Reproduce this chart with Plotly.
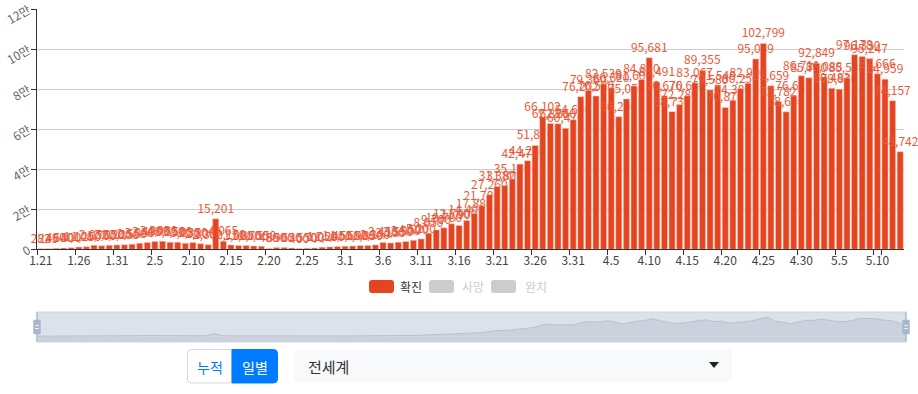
import plotly.graph_objects as go

dates = [
    "1.21", "1.22", "1.23", "1.24", "1.25", "1.26", "1.27", "1.28", "1.29", "1.30", "1.31",
    "2.1", "2.2", "2.3", "2.4", "2.5", "2.6", "2.7", "2.8", "2.9", "2.10",
    "2.11", "2.12", "2.13", "2.14", "2.15", "2.16", "2.17", "2.18", "2.19", "2.20",
    "2.21", "2.22", "2.23", "2.24", "2.25", "2.26", "2.27", "2.28", "2.29",
    "3.1", "3.2", "3.3", "3.4", "3.5", "3.6", "3.7", "3.8", "3.9", "3.10",
    "3.11", "3.12", "3.13", "3.14", "3.15", "3.16", "3.17", "3.18", "3.19", "3.20",
    "3.21", "3.22", "3.23", "3.24", "3.25", "3.26", "3.27", "3.28", "3.29", "3.30", "3.31",
    "4.1", "4.2", "4.3", "4.4", "4.5", "4.6", "4.7", "4.8", "4.9", "4.10",
    "4.11", "4.12", "4.13", "4.14", "4.15", "4.16", "4.17", "4.18", "4.19", "4.20",
    "4.21", "4.22", "4.23", "4.24", "4.25", "4.26", "4.27", "4.28", "4.29", "4.30",
    "5.1", "5.2", "5.3", "5.4", "5.5", "5.6", "5.7", "5.8", "5.9", "5.10",
    "5.11", "5.12", "5.13",
]

confirmed = [
    282, 245, 480, 640, 800, 1100, 1250, 2050, 1750, 2050, 2200,
    2250, 2550, 3050, 3400, 3900, 4000, 3550, 3500, 3050, 3350,
    2800, 2300, 15201, 4065, 2150, 1900, 1850, 1700, 1550, 450,
    850, 900, 650, 400, 550, 700, 1050, 1200, 1450,
    1550, 1650, 1900, 1850, 2200, 3450, 3150, 3550, 3900, 4500,
    5200, 8050, 9700, 10700, 12700, 11900, 14400, 17880, 21700, 27260,
    31382, 31802, 35150, 42470, 44230, 51870, 66102, 62820, 62660, 60470, 64690,
    76202, 79360, 76580, 82530, 80620, 66230, 75050, 81600, 84810, 95681,
    83491, 76670, 68730, 72280, 76660, 83067, 89355, 79580, 81540, 70870,
    74380, 80250, 82900, 95039, 102799, 81659, 73782, 68640, 76620, 86711,
    85700, 92849, 86088, 80483, 79930, 85530, 97178, 96330, 95247, 87666,
    84959, 74157, 48742,
]

x_tick_labels = dates[::5]
y_tick_values = [0, 20000, 40000, 60000, 80000, 100000, 120000]
y_tick_labels = ["0", "2만", "4만", "6만", "8만", "10만", "12만"]
legend_names = ["확진", "사망", "완치"]
button_names = ["누적", "일별"]
region_name = "전세계"

BAR = "#e4441f"
FONT = "Noto Sans CJK KR"

W, H = 918, 394
L = 37
R = W - 906
T = 9
B = H - 342
PW = W - L - R
PH = H - T - B


def px(x):
    return (x - L) / PW


def py(y):
    return (H - B - y) / PH


def rrect(x0, y0, x1, y1, rtl, rtr, rbr, rbl):
    def P(x, y):
        return f"{px(x):.5f},{py(y):.5f}"
    s = f"M{P(x0 + rtl, y0)} L{P(x1 - rtr, y0)} Q{P(x1, y0)} {P(x1, y0 + rtr)} "
    s += f"L{P(x1, y1 - rbr)} Q{P(x1, y1)} {P(x1 - rbr, y1)} "
    s += f"L{P(x0 + rbl, y1)} Q{P(x0, y1)} {P(x0, y1 - rbl)} "
    s += f"L{P(x0, y0 + rtl)} Q{P(x0, y0)} {P(x0 + rtl, y0)} Z"
    return s


fig = go.Figure()

fig.add_trace(go.Bar(
    x=dates, y=confirmed, name=legend_names[0],
    marker=dict(color=BAR, line=dict(color="rgba(255,200,188,0.9)", width=0.6)),
    text=[f"{v:,}" for v in confirmed], textposition="outside",
    textfont=dict(size=12, color="#ea5a3b", family=FONT),
    constraintext="none", cliponaxis=False,
    xaxis="x", yaxis="y", showlegend=False,
))

fig.add_trace(go.Scatter(
    x=dates, y=confirmed, mode="lines", fill="tozeroy",
    line=dict(color="#b9c1cd", width=1), fillcolor="#ccd2dd",
    xaxis="x2", yaxis="y2", showlegend=False, hoverinfo="skip",
))

shapes = []
# slider background
shapes.append(dict(type="rect", xref="paper", yref="paper",
                   x0=px(37), x1=px(906), y0=py(342), y1=py(312),
                   fillcolor="#dce1ea", line=dict(color="#cdd5e2", width=1), layer="below"))
shapes.append(dict(type="rect", xref="paper", yref="paper",
                   x0=px(37), x1=px(906), y0=py(342), y1=py(336.5),
                   fillcolor="#ccd2dd", line=dict(width=0), layer="below"))
# slider edge lines and handles
for hx in (37, 906):
    shapes.append(dict(type="line", xref="paper", yref="paper",
                       x0=px(hx), x1=px(hx), y0=py(342), y1=py(312),
                       line=dict(color="#a9b7cb", width=1.2)))
    shapes.append(dict(type="path", xref="paper", yref="paper",
                       path=rrect(hx - 3.5, 320, hx + 3.5, 334, 1, 1, 1, 1),
                       fillcolor="#a8b7cb", line=dict(color="#a8b7cb", width=0.5)))
    for ly in (325.5, 328.5):
        shapes.append(dict(type="line", xref="paper", yref="paper",
                           x0=px(hx - 1.5), x1=px(hx + 1.5), y0=py(ly), y1=py(ly),
                           line=dict(color="#ffffff", width=1)))

# custom legend
legend_items = [(369, 398, BAR, "#333333"), (429, 460, "#cccccc", "#cccccc"), (491, 523, "#cccccc", "#cccccc")]
annotations = []
for (rx, tx, col, tcol), name in zip(legend_items, legend_names):
    shapes.append(dict(type="path", xref="paper", yref="paper",
                       path=rrect(rx, 280, rx + 25, 293, 3, 3, 3, 3),
                       fillcolor=col, line=dict(width=0)))
    annotations.append(dict(xref="paper", yref="paper", x=px(tx), y=py(286.5),
                            text=name, showarrow=False, xanchor="left", yanchor="middle",
                            font=dict(size=12, color=tcol, family=FONT)))

# buttons
shapes.append(dict(type="path", xref="paper", yref="paper",
                   path=rrect(187.5, 349.5, 232, 383, 4, 0, 0, 4),
                   fillcolor="#ffffff", line=dict(color="#d3d8dd", width=1)))
shapes.append(dict(type="path", xref="paper", yref="paper",
                   path=rrect(232, 349.5, 277.5, 383, 0, 4, 4, 0),
                   fillcolor="#007bff", line=dict(color="#007bff", width=1)))
annotations.append(dict(xref="paper", yref="paper", x=px(209.8), y=py(366.5),
                        text=button_names[0], showarrow=False, xanchor="center", yanchor="middle",
                        font=dict(size=14, color="#007bff", family=FONT)))
annotations.append(dict(xref="paper", yref="paper", x=px(254.8), y=py(366.5),
                        text=button_names[1], showarrow=False, xanchor="center", yanchor="middle",
                        font=dict(size=14, color="#ffffff", family=FONT)))
# dropdown
shapes.append(dict(type="path", xref="paper", yref="paper",
                   path=rrect(294, 349.5, 732, 382, 4, 4, 4, 4),
                   fillcolor="#f8f9fa", line=dict(width=0)))
annotations.append(dict(xref="paper", yref="paper", x=px(306), y=py(366),
                        text=region_name, showarrow=False, xanchor="left", yanchor="middle",
                        font=dict(size=15, color="#333333", family=FONT)))
shapes.append(dict(type="path", xref="paper", yref="paper",
                   path=f"M{px(709):.5f},{py(362):.5f} L{px(719):.5f},{py(362):.5f} L{px(714):.5f},{py(368):.5f} Z",
                   fillcolor="#222222", line=dict(width=0)))

main_bottom = py(249.3)
fig.update_layout(
    width=W, height=H,
    margin=dict(l=L, r=R, t=T, b=B, pad=0, autoexpand=False),
    paper_bgcolor="#ffffff", plot_bgcolor="rgba(0,0,0,0)",
    font=dict(family=FONT, size=12, color="#333333"),
    bargap=0.2,
    showlegend=False,
    xaxis=dict(
        type="category", domain=[0, px(904)], range=[-0.5, len(dates) - 0.5],
        tickmode="array", tickvals=x_tick_labels, ticktext=x_tick_labels,
        tickson="boundaries", tickangle=0, automargin=False,
        ticks="outside", ticklen=5, tickcolor="#333333", tickwidth=1,
        showline=True, linecolor="#333333", linewidth=1,
        showgrid=False, tickfont=dict(size=12, color="#444444", family=FONT),
        anchor="y", fixedrange=True,
    ),
    yaxis=dict(
        domain=[main_bottom, 1], range=[0, 120000],
        tickmode="array", tickvals=y_tick_values, ticktext=y_tick_labels,
        tickangle=-30, automargin=False, ticks="outside", ticklen=5, tickcolor="#333333",
        showline=True, linecolor="#333333", linewidth=1,
        showgrid=True, gridcolor="#cccccc", gridwidth=1, zeroline=False,
        tickfont=dict(size=12, color="#666666", family=FONT),
        anchor="x", fixedrange=True,
    ),
    xaxis2=dict(type="category", domain=[0, 1], range=[0, len(dates) - 1],
                visible=False, anchor="y2", fixedrange=True, automargin=False),
    yaxis2=dict(domain=[0, 30 / PH], range=[-31000, 131500], visible=False,
                anchor="x2", fixedrange=True, automargin=False),
    shapes=shapes,
    annotations=annotations,
)

fig.write_html(
    "out.html",
    config={"displayModeBar": False},
    post_script="document.body.style.margin='0';document.body.style.overflow='hidden';",
)
